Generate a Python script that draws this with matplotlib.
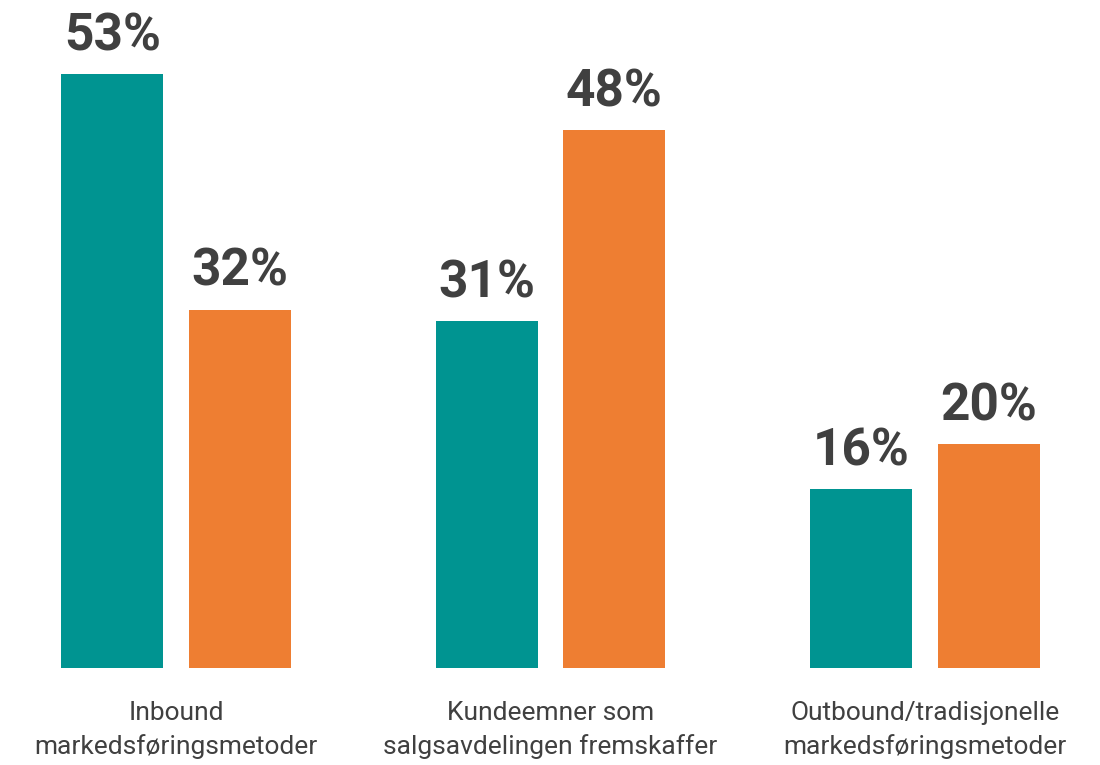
import numpy as np
import matplotlib
matplotlib.use("Agg")
import matplotlib.pyplot as plt

plt.rcParams["font.family"] = ["Roboto", "DejaVu Sans"]

categories = [
    "Inbound\nmarkedsføringsmetoder",
    "Kundeemner som\nsalgsavdelingen fremskaffer",
    "Outbound/tradisjonelle\nmarkedsføringsmetoder",
]
teal_values = [53, 31, 16]
orange_values = [32, 48, 20]

teal = "#009491"
orange = "#EE7E32"
text_color = "#404040"

fig = plt.figure(figsize=(11, 7.65), dpi=100)
ax = fig.add_axes([0, 97 / 765, 1, 668 / 765])

x = np.arange(len(categories))
width = 0.272
offset = 0.170

bars_t = ax.bar(x - offset, teal_values, width, color=teal)
bars_o = ax.bar(x + offset, orange_values, width, color=orange)

for bars, vals in [(bars_t, teal_values), (bars_o, orange_values)]:
    for b, v in zip(bars, vals):
        ax.annotate(f"{v}%", (b.get_x() + b.get_width() / 2, v),
                    xytext=(0, 17), textcoords="offset points",
                    ha="center", va="baseline", fontsize=37,
                    fontweight="bold", color=text_color)

ax.set_xlim(-176 / 374.5, (1100 - 176) / 374.5)
ax.set_ylim(0, 668 / 11.2)
ax.set_xticks(x)
ax.set_xticklabels(categories, fontsize=19, color=text_color, linespacing=1.45)
ax.tick_params(axis="x", length=0, pad=24)
ax.set_yticks([])
for s in ax.spines.values():
    s.set_visible(False)

fig.savefig("out.png", dpi=100, facecolor="white")
